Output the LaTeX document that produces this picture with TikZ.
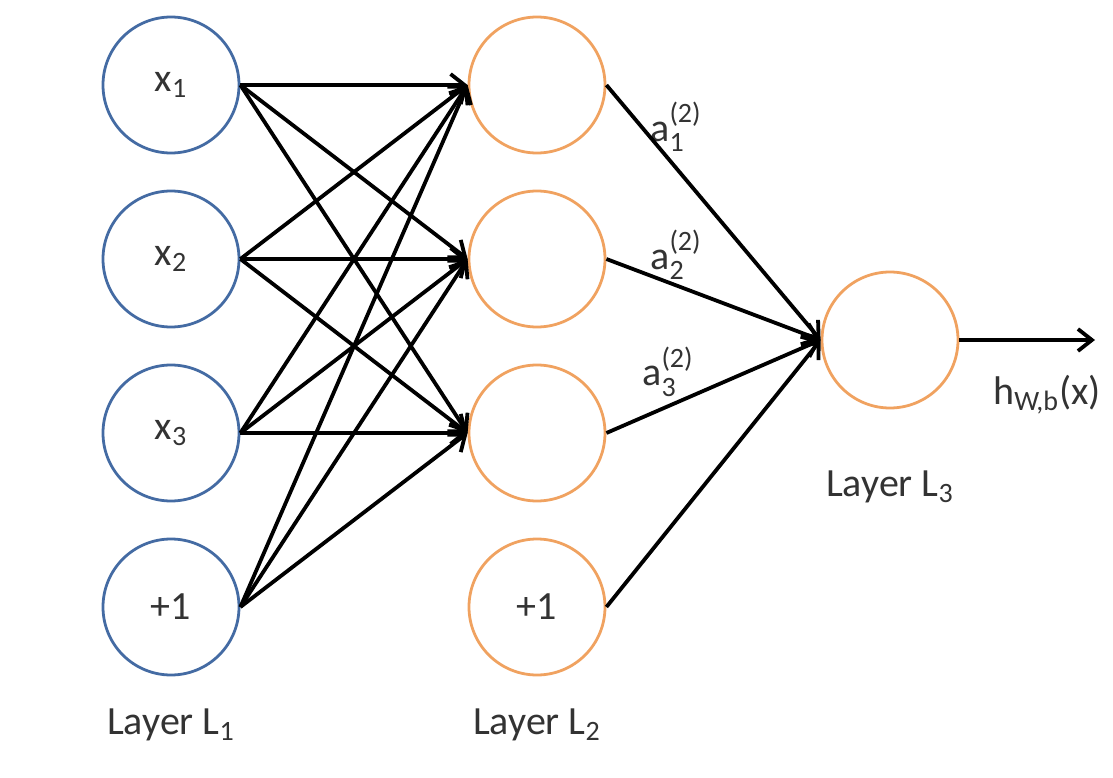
\documentclass[tikz,border=0pt]{standalone}
\usepackage{amsmath}
\usepackage{fontspec}
\setmainfont{Carlito}
\usepackage{xcolor}
\usetikzlibrary{arrows.meta}
\definecolor{inblue}{RGB}{68,107,163}
\definecolor{hidorange}{RGB}{240,162,96}
\definecolor{txtgray}{RGB}{51,51,51}

\begin{document}
\begin{tikzpicture}[node distance=87pt,
        neuron/.style={circle, line width=1.4pt, minimum size=68pt, inner sep=0pt,
            text=txtgray, font=\fontsize{20}{24}\selectfont},
        lbl/.style={text=txtgray, font=\fontsize{20}{24}\selectfont},
        conn/.style={line width=1.9pt, -{Straight Barb[length=7pt,width=11pt]}}]
            \useasboundingbox (-85.5pt,42.5pt) rectangle (471pt,-346pt);
            % layer 1
            \node[neuron, draw=inblue] (x1)                 {x\textsubscript{1}};
            \node[neuron, draw=inblue] (x2) [below of=x1]   {x\textsubscript{2}};
            \node[neuron, draw=inblue] (x3) [below of=x2]   {x\textsubscript{3}};
            \node[neuron, draw=inblue] (b1) [below of=x3]   {+1};
            % layer 2
            \node[neuron, draw=hidorange] (h1) [node distance=183pt, right of=x1] {};
            \node[neuron, draw=hidorange] (h2) [below of=h1] {};
            \node[neuron, draw=hidorange] (h3) [below of=h2] {};
            \node[neuron, draw=hidorange] (b2) [below of=h3] {+1};
            % layer 3
            \node[neuron, draw=hidorange] (y) at (359.5pt,-127.5pt) {};
            \node[coordinate, node distance=102.5pt, right of=y] (yend) {};
            % labels
            \node[lbl] (l1) [node distance=59pt, below of=b1]   {Layer L\textsubscript{1}};
            \node[lbl] (l2) [node distance=59pt, below of=b2]   {Layer L\textsubscript{2}};
            \node[lbl] (l3) [node distance=73.5pt, below of=y]  {Layer L\textsubscript{3}};
            \node[lbl] (hout) at (438pt,-155pt)   {h\textsubscript{W,b}(x)};
            \node[lbl] (a1) at (252.5pt,-21pt)    {a$^{\text{(2)}}_{\text{1}}$};
            \node[lbl] (a2) at (252.5pt,-85pt)    {a$^{\text{(2)}}_{\text{2}}$};
            \node[lbl] (a3) at (248.5pt,-143.5pt) {a$^{\text{(2)}}_{\text{3}}$};
            % layer 1 -> layer 2
            \draw[conn] (x1.east) -- (h1.west);
            \draw[conn] (x1.east) -- (h2.west);
            \draw[conn] (x1.east) -- (h3.west);
            \draw[conn] (x2.east) -- (h1.west);
            \draw[conn] (x2.east) -- (h2.west);
            \draw[conn] (x2.east) -- (h3.west);
            \draw[conn] (x3.east) -- (h1.west);
            \draw[conn] (x3.east) -- (h2.west);
            \draw[conn] (x3.east) -- (h3.west);
            \draw[conn] (b1.east) -- (h1.west);
            \draw[conn] (b1.east) -- (h2.west);
            \draw[conn] (b1.east) -- (h3.west);
            % layer 2 -> layer 3
            \draw[conn] (h1.east) -- (y.west);
            \draw[conn] (h2.east) -- (y.west);
            \draw[conn] (h3.east) -- (y.west);
            \draw[conn] (b2.east) -- (y.west);
            \draw[conn] (y) -- (yend);
        \end{tikzpicture}
\end{document}
